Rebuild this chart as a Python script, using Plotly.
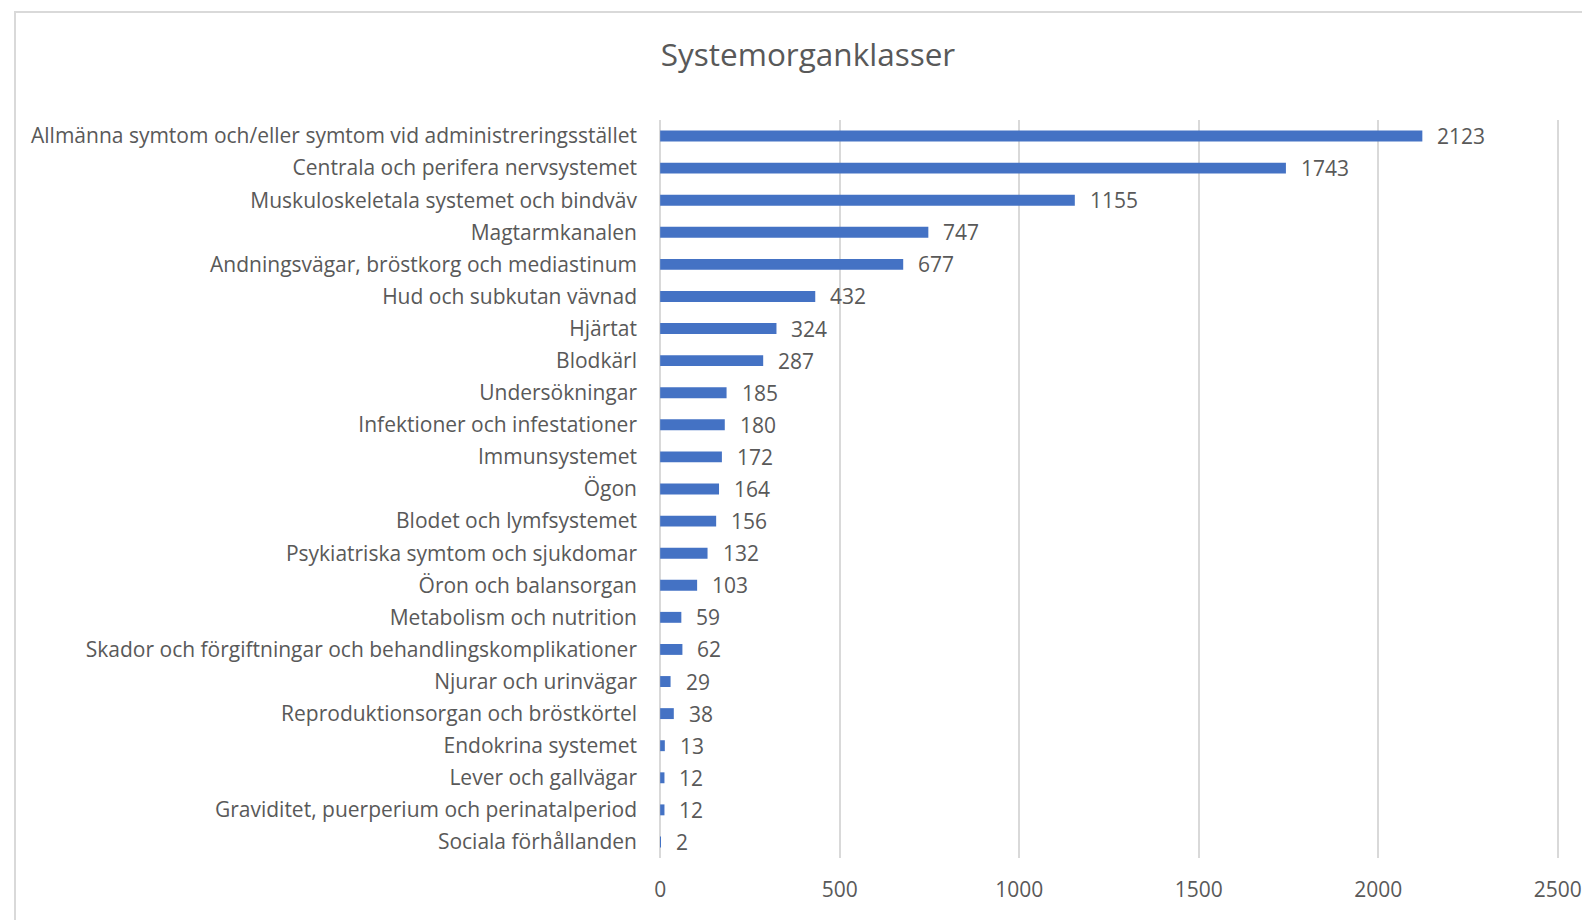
import plotly.graph_objects as go

categories = [
    "Allmänna symtom och/eller symtom vid administreringsstället",
    "Centrala och perifera nervsystemet",
    "Muskuloskeletala systemet och bindväv",
    "Magtarmkanalen",
    "Andningsvägar, bröstkorg och mediastinum",
    "Hud och subkutan vävnad",
    "Hjärtat",
    "Blodkärl",
    "Undersökningar",
    "Infektioner och infestationer",
    "Immunsystemet",
    "Ögon",
    "Blodet och lymfsystemet",
    "Psykiatriska symtom och sjukdomar",
    "Öron och balansorgan",
    "Metabolism och nutrition",
    "Skador och förgiftningar och behandlingskomplikationer",
    "Njurar och urinvägar",
    "Reproduktionsorgan och bröstkörtel",
    "Endokrina systemet",
    "Lever och gallvägar",
    "Graviditet, puerperium och perinatalperiod",
    "Sociala förhållanden",
]
values = [2123, 1743, 1155, 747, 677, 432, 324, 287, 185, 180, 172, 164,
          156, 132, 103, 59, 62, 29, 38, 13, 12, 12, 2]
x_ticks = [0, 500, 1000, 1500, 2000, 2500]
title_text = "Systemorganklasser"

FONT = "Open Sans"
TXT = "#595959"
W, H = 1582, 920
FS = 21

# pixel positions of value 0 and 2500, padded range so edge gridlines draw
X0PX, X2500PX = 660.0, 1558.0
XMIN, XMAX = -6, 2512
scale = (X2500PX - X0PX) / 2500.0
ML = X0PX + XMIN * scale
MR = W - (X0PX + XMAX * scale)
MT, MB = 120, 62

fig = go.Figure(go.Bar(
    x=values, y=categories, orientation="h",
    marker=dict(color="#4472C4", line=dict(width=0)),
    width=0.34, hoverinfo="x+y",
))

for c, v in zip(categories, values):
    fig.add_annotation(x=v, y=c, text=str(v), showarrow=False,
                       xanchor="left", yanchor="middle", xshift=13,
                       font=dict(family=FONT, size=FS, color=TXT))

pw = W - ML - MR
ph = H - MT - MB
bx0 = (14.5 - ML) / pw
by1 = (H - MB - 12) / ph
fig.add_shape(type="rect", xref="paper", yref="paper",
              x0=bx0, x1=1.2, y0=-0.3, y1=by1,
              line=dict(color="#D9D9D9", width=2), fillcolor="rgba(0,0,0,0)",
              layer="below")

fig.update_layout(
    width=W, height=H,
    margin=dict(l=ML, r=MR, t=MT, b=MB, pad=0, autoexpand=False),
    paper_bgcolor="white", plot_bgcolor="white",
    showlegend=False,
    title=dict(text=title_text, xref="container", yref="container",
               x=808 / W, y=1 - 55 / H, xanchor="center", yanchor="middle",
               font=dict(family=FONT, size=31.5, color=TXT)),
    font=dict(family=FONT, color=TXT, size=FS),
    xaxis=dict(range=[XMIN, XMAX], tickvals=x_ticks, showgrid=True,
               gridcolor="#D9D9D9", gridwidth=1.5, zeroline=False,
               showline=False, ticks="", ticklabelstandoff=17, automargin=False,
               ticklabeloverflow="allow",
               tickfont=dict(family=FONT, size=FS, color=TXT), fixedrange=True),
    yaxis=dict(categoryorder="array", categoryarray=categories,
               autorange="reversed", showgrid=False, zeroline=False,
               showline=False, ticks="", ticklabelstandoff=20, automargin=False,
               tickfont=dict(family=FONT, size=FS, color=TXT), fixedrange=True),
)

fig.write_html("out.html", config={"displayModeBar": False},
               post_script="document.body.style.margin='0';document.body.style.overflow='hidden';")
